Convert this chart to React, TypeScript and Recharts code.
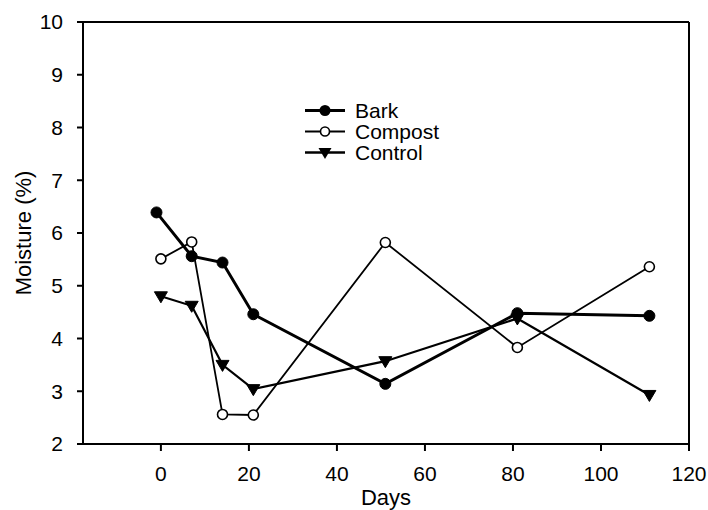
import React from "react"
import { LineChart, Line, XAxis, YAxis, ReferenceLine } from "recharts"

// Days sampled (bark was plotted slightly offset at the first point)
const barkDays = [-1, 7, 14, 21, 51, 81, 111]
const compostDays = [0, 7, 14, 21, 51, 81, 111]
const controlDays = [0, 7, 14, 21, 51, 81, 111]

// Moisture (%)
const barkValues = [6.39, 5.56, 5.44, 4.46, 3.14, 4.48, 4.43]
const compostValues = [5.51, 5.83, 2.56, 2.55, 5.82, 3.83, 5.36]
const controlValues = [4.8, 4.62, 3.5, 3.04, 3.57, 4.38, 2.93]

const xTicks = [0, 20, 40, 60, 80, 100, 120]
const yTicks = [2, 3, 4, 5, 6, 7, 8, 9, 10]

const toRows = (days: number[], values: number[]) => days.map((day, i) => ({ day, value: values[i] }))

const barkData = toRows(barkDays, barkValues)
const compostData = toRows(compostDays, compostValues)
const controlData = toRows(controlDays, controlValues)

const font = "'Liberation Sans', Arial, sans-serif"

const FilledDot = (props: any) => {
  const { cx, cy } = props
  return <circle cx={cx} cy={cy} r={5.5} fill="#000" stroke="#000" strokeWidth={1} />
}

const OpenDot = (props: any) => {
  const { cx, cy } = props
  return <circle cx={cx} cy={cy} r={5} fill="#fff" stroke="#000" strokeWidth={1.6} />
}

const Triangle = (props: any) => {
  const { cx, cy } = props
  return (
    <polygon
      points={`${cx - 6.5},${cy - 4.5} ${cx + 6.5},${cy - 4.5} ${cx},${cy + 6.5}`}
      fill="#000"
      stroke="#000"
      strokeWidth={1}
    />
  )
}

const legendItems = [
  { name: "Bark", kind: "filled", width: 3 },
  { name: "Compost", kind: "open", width: 2 },
  { name: "Control", kind: "tri", width: 2.5 },
]

const ChartLegend = () => (
  <div
    style={{
      position: "absolute",
      left: 305,
      top: 100,
      fontFamily: font,
      fontSize: 21,
      lineHeight: "21px",
      color: "#000",
    }}
  >
    {legendItems.map((item) => (
      <div key={item.name} style={{ display: "flex", alignItems: "center", height: 21 }}>
        <svg width={50} height={21}>
          <line x1={0} y1={10.5} x2={40} y2={10.5} stroke="#000" strokeWidth={item.width} />
          {item.kind === "filled" && <circle cx={20} cy={10.5} r={5.5} fill="#000" />}
          {item.kind === "open" && <circle cx={20} cy={10.5} r={4.5} fill="#fff" stroke="#000" strokeWidth={1.6} />}
          {item.kind === "tri" && <polygon points="13.5,6 26.5,6 20,17" fill="#000" />}
        </svg>
        <span>{item.name}</span>
      </div>
    ))}
  </div>
)

export default function App() {
  return (
    <div style={{ position: "absolute", left: 0, top: 0, width: 708, height: 510, background: "#fff" }}>
      <LineChart width={708} height={510} margin={{ top: 22, right: 19, bottom: 0, left: 0 }}>
        <XAxis
          type="number"
          dataKey="day"
          domain={[-17.7, 120]}
          ticks={xTicks}
          allowDataOverflow
          height={66}
          stroke="#000"
          strokeWidth={2}
          tickSize={7}
          tickMargin={15}
          tick={{ fill: "#000", fontSize: 21, fontFamily: font }}
          label={{ value: "Days", position: "insideBottom", offset: 5, fill: "#000", fontSize: 22, fontFamily: font }}
        />
        <YAxis
          type="number"
          domain={[2, 10]}
          ticks={yTicks}
          width={83}
          stroke="#000"
          strokeWidth={2}
          tickSize={6}
          tickMargin={14}
          tick={{ fill: "#000", fontSize: 21, fontFamily: font }}
          label={{
            value: "Moisture (%)",
            angle: -90,
            position: "insideLeft",
            offset: 23,
            style: { textAnchor: "middle" },
            fill: "#000",
            fontSize: 22,
            fontFamily: font,
          }}
        />
        <ReferenceLine y={10} stroke="#000" strokeWidth={2} />
        <ReferenceLine x={120} stroke="#000" strokeWidth={2} />
        <Line
          data={controlData}
          dataKey="value"
          name="Control"
          stroke="#000"
          strokeWidth={2.2}
          dot={<Triangle />}
          isAnimationActive={false}
        />
        <Line
          data={compostData}
          dataKey="value"
          name="Compost"
          stroke="#000"
          strokeWidth={1.8}
          dot={<OpenDot />}
          isAnimationActive={false}
        />
        <Line
          data={barkData}
          dataKey="value"
          name="Bark"
          stroke="#000"
          strokeWidth={3}
          dot={<FilledDot />}
          isAnimationActive={false}
        />
      </LineChart>
      <ChartLegend />
    </div>
  )
}
